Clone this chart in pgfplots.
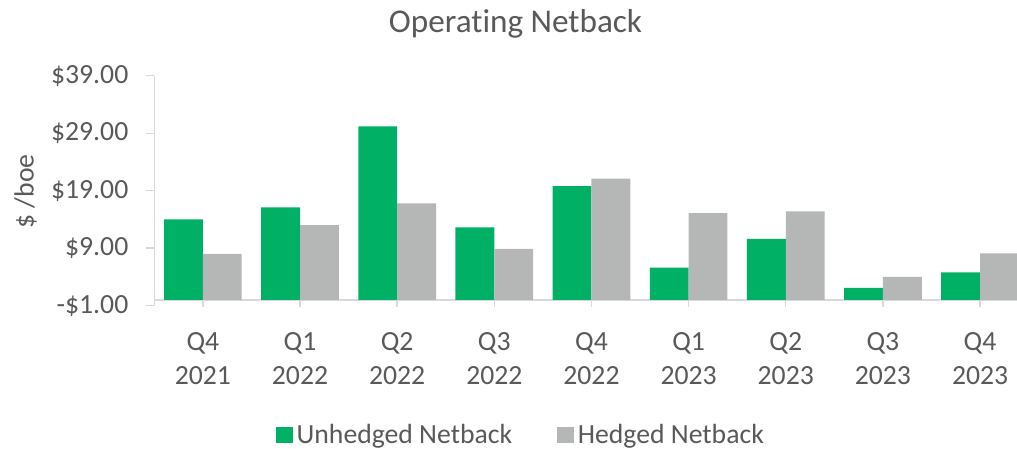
\documentclass[border=0pt]{standalone}
\usepackage{pgfplots}
\pgfplotsset{compat=1.18}
\usepackage{fontspec}
\setmainfont{Carlito}[Ligatures={NoCommon}]
\definecolor{ugreen}{HTML}{00B064}
\definecolor{hgray}{HTML}{B4B7B5}
\definecolor{txt}{HTML}{595959}
\definecolor{axl}{HTML}{D9D9D9}
\begin{document}
\begin{tikzpicture}
\useasboundingbox (0,0) rectangle (508.5pt,224.5pt);
\node[anchor=base, font=\fontsize{16.6pt}{20pt}\selectfont, text=txt, inner sep=0pt] at (257.75pt,208pt) {Operating Netback};
\node[rotate=90, anchor=center, font=\fontsize{13.85pt}{17pt}\selectfont, text=txt, inner sep=0pt] at (12.8pt,128.75pt) {\$ /boe};
\begin{axis}[
  at={(77.15pt,71.65pt)}, anchor=south west,
  scale only axis, width=431.35pt, height=115pt,
  xmin=-0.5, xmax=8.38, ymin=-1, ymax=39,
  axis x line=middle, axis y line=left,
  axis line style={axl, line width=0.7pt, -},
  tick style={axl, line width=0.7pt},
  tick align=outside,
  major tick length=4.3pt,
  xtick style={/pgfplots/major tick length=3.3pt},
  ytick={-1,9,19,29,39},
  yticklabels={-\$1.00,\$9.00,\$19.00,\$29.00,\$39.00},
  xtick={0,1,2,3,4,5,6,7,8},
  xticklabels={Q4\\2021,Q1\\2022,Q2\\2022,Q3\\2022,Q4\\2022,Q1\\2023,Q2\\2023,Q3\\2023,Q4\\2023},
  ticklabel style={font=\fontsize{13.85pt}{17.15pt}\selectfont, text=txt},
  yticklabel style={anchor=east, inner sep=0pt, xshift=-8.5pt},
  xticklabel style={align=center, anchor=center, inner sep=0pt, yshift=-25pt},
  legend columns=-1,
  legend style={draw=none, fill=none, inner sep=0pt, outer sep=0pt,
    at={(axis description cs:0.141,-0.562)}, anchor=west,
    font=\fontsize{13.85pt}{17pt}\selectfont, text=txt,
    /tikz/every even column/.append style={column sep=20.5pt}},
  legend image code/.code={\fill[#1] (0pt,-4.2pt) rectangle (8.35pt,4.2pt);},
]
\addplot[ybar, bar width=0.4, bar shift=-0.2, fill=ugreen, draw=none]
  coordinates {(0,14.0) (1,16.1) (2,30.2) (3,12.6) (4,19.8) (5,5.6) (6,10.6) (7,2.1) (8,4.8)};
\addplot[ybar, bar width=0.4, bar shift=0.2, fill=hgray, draw=none]
  coordinates {(0,8.0) (1,13.0) (2,16.8) (3,8.9) (4,21.1) (5,15.1) (6,15.4) (7,4.0) (8,8.1)};
\legend{Unhedged Netback, Hedged Netback}
\end{axis}
\end{tikzpicture}
\end{document}
